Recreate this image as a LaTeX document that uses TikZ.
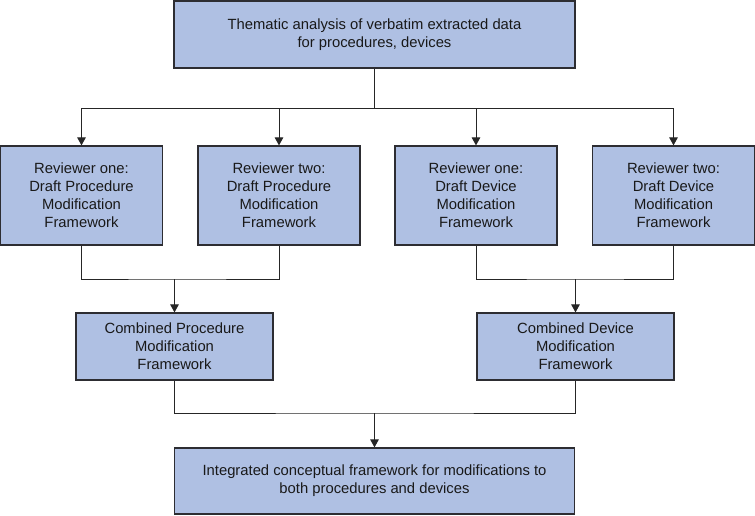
\documentclass[tikz,border=0pt]{standalone}
\usepackage{fontspec}
\setmainfont{Liberation Sans}
\usetikzlibrary{arrows.meta}
\definecolor{boxfill}{RGB}{175,192,227}
\definecolor{boxline}{RGB}{45,45,50}
\definecolor{txt}{RGB}{25,25,25}
\tikzset{
  box/.style={draw=boxline, line width=1.2pt, fill=boxfill, rectangle, inner sep=0pt,
    align=center, text=txt, font=\fontsize{14.8}{17.9}\selectfont},
  conn/.style={draw=black!85, line width=1pt},
  arr/.style={conn, -{Triangle[width=8.5pt,length=8pt]}}
}
\begin{document}
\begin{tikzpicture}[x=1pt,y=-1pt]
\useasboundingbox (0,0) rectangle (755,515);
\node[box, minimum width=401pt, minimum height=67pt] (top) at (374.5,34.5)
  {Thematic analysis of verbatim extracted data\\for procedures, devices};
\node[box, minimum width=162pt, minimum height=99pt] (r1) at (81.5,195.5)
  {Reviewer one:\\Draft Procedure\\Modification\\Framework};
\node[box, minimum width=162pt, minimum height=99pt] (r2) at (279,195.5)
  {Reviewer two:\\Draft Procedure\\Modification\\Framework};
\node[box, minimum width=162pt, minimum height=99pt] (r3) at (476,195.5)
  {Reviewer one:\\Draft Device\\Modification\\Framework};
\node[box, minimum width=162pt, minimum height=99pt] (r4) at (673.5,195.5)
  {Reviewer two:\\Draft Device\\Modification\\Framework};
\node[box, minimum width=197pt, minimum height=67pt] (c1) at (174.5,346.5)
  {Combined Procedure\\Modification\\Framework};
\node[box, minimum width=197pt, minimum height=67pt] (c2) at (575.5,346.5)
  {Combined Device\\Modification\\Framework};
\node[box, minimum width=400pt, minimum height=66pt] (bot) at (374.5,481)
  {Integrated conceptual framework for modifications to\\both procedures and devices};

\coordinate (split) at (374.5,108);
\coordinate (m1) at (174.5,279);
\coordinate (m2) at (575.5,279);
\coordinate (m3) at (374.5,413);

\draw[conn] (top.south) -- (split);
\draw[conn] (r1.north |- split) -- (r4.north |- split);
\draw[arr] (r1.north |- split) -- (r1.north);
\draw[arr] (r2.north |- split) -- (r2.north);
\draw[arr] (r3.north |- split) -- (r3.north);
\draw[arr] (r4.north |- split) -- (r4.north);

\draw[conn] (r1.south) |- (m1) -| (r2.south);
\draw[arr] (m1) -- (c1.north);
\draw[conn] (r3.south) |- (m2) -| (r4.south);
\draw[arr] (m2) -- (c2.north);

\draw[conn] (c1.south) |- (m3) -| (c2.south);
\draw[arr] (m3) -- (bot.north);
\end{tikzpicture}
\end{document}
